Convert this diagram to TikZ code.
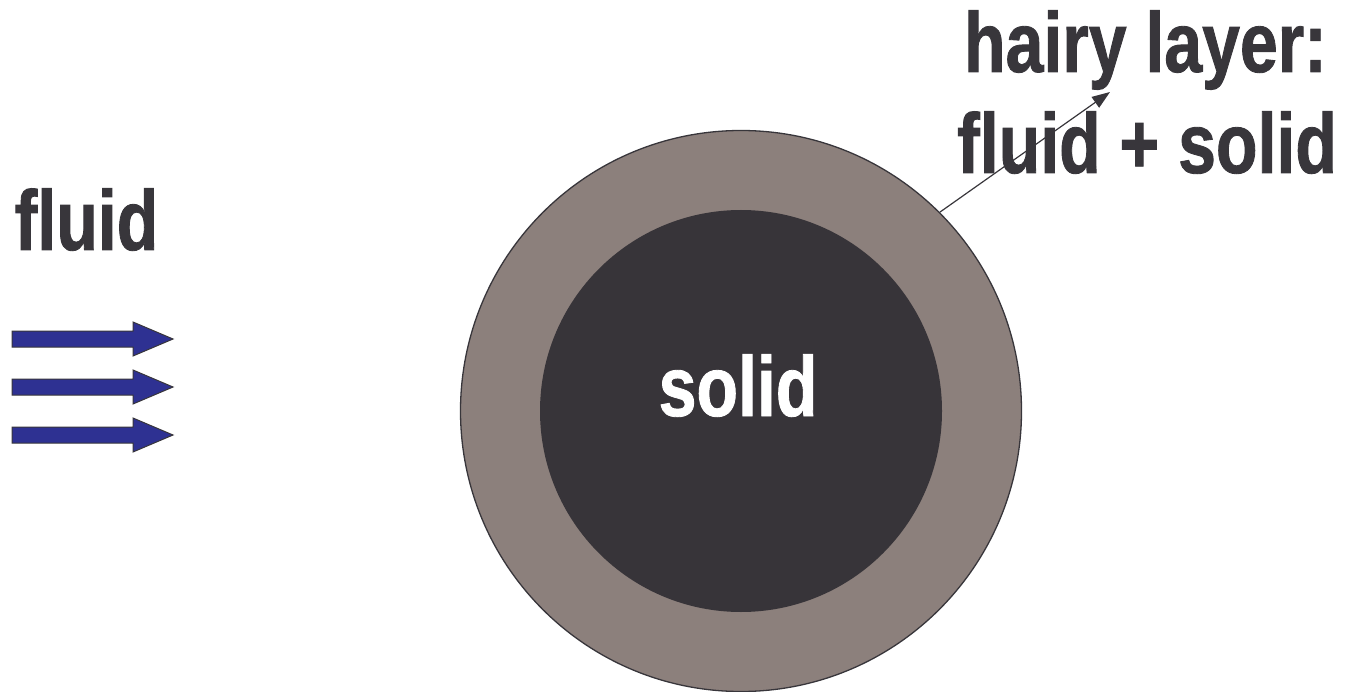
\documentclass[tikz,border=0pt]{standalone}
\usepackage{fontspec}
\setmainfont{Liberation Sans}[FakeStretch=0.8, BoldFeatures={FakeBold=1}]
\usetikzlibrary{arrows.meta}
\definecolor{txtgray}{HTML}{38363B}
\definecolor{coregray}{HTML}{373439}
\definecolor{ringgray}{HTML}{8C807C}
\definecolor{flowblue}{HTML}{2E3192}
\tikzset{
  bigtext/.style={font=\bfseries\fontsize{85}{101}\selectfont, inner sep=0pt, anchor=base},
  flowarrow/.style={fill=flowblue, draw=txtgray, line width=1pt, line join=miter},
  pointer/.style={draw=txtgray, line width=1.2pt, -{Triangle[length=18pt,width=13pt]}}
}
\begin{document}
\begin{tikzpicture}[x=1pt,y=-1pt]
\useasboundingbox (0,0) rectangle (1348,692);
% hairy layer and core
\node (ring) [circle, minimum size=561pt, inner sep=0pt, fill=ringgray, draw=txtgray, line width=1.3pt] at (741,411) {};
\node (core) [circle, minimum size=402pt, inner sep=0pt, fill=coregray] at (741,411) {};
\node (solid) [bigtext, text=white] at (738,416) {solid};
% labels
\node (fluid) [bigtext, text=txtgray] at (86.5,250) {fluid};
\node (hairy1) [bigtext, text=txtgray] at (1145.5,72) {hairy layer:};
\node (hairy2) [bigtext, text=txtgray] at (1147,173) {fluid + solid};
% pointer from ring to label
\coordinate (tip) at (1110,92);
\draw[pointer] (ring.45) -- (tip);
% flow arrows
\foreach \yy in {339, 387, 435}{
  \draw[flowarrow] (12,\yy-8) -- (133,\yy-8) -- (133,\yy-17) -- (173,\yy) -- (133,\yy+17) -- (133,\yy+8) -- (12,\yy+8) -- cycle;
}
\end{tikzpicture}
\end{document}
